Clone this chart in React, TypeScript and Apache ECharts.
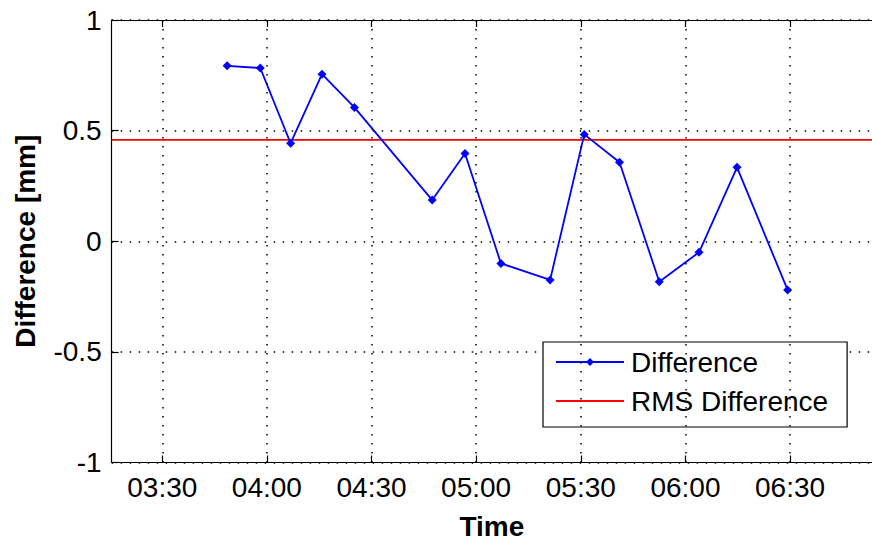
import React, { useEffect, useRef } from "react";
import * as echarts from "echarts";

// Times are minutes after midnight
const diffTimes = [228.6, 238.1, 246.8, 255.8, 265.1, 287.4, 296.8, 307.1, 321.2, 331.0, 341.1, 352.5, 363.9, 374.8, 389.3];
const diffValues = [0.793, 0.783, 0.443, 0.755, 0.605, 0.186, 0.397, -0.1, -0.175, 0.483, 0.357, -0.183, -0.05, 0.334, -0.22];
const rmsTimes = [195.5, 413.5];
const rmsValues = [0.458, 0.458];
const timeTicks = [210, 240, 270, 300, 330, 360, 390];
const yTicks = [-1, -0.5, 0, 0.5, 1];

const FONT = "'Liberation Sans', Arial, Helvetica, sans-serif";
const X_MIN = 195.5;
const X_MAX = 413.5;

function fmtTime(v: number): string {
  const h = Math.floor(v / 60);
  const m = Math.round(v - h * 60);
  return String(h).padStart(2, "0") + ":" + String(m).padStart(2, "0");
}

export default function App() {
  const ref = useRef<HTMLDivElement>(null);
  useEffect(() => {
    if (!ref.current) return;
    const chart = echarts.init(ref.current, null, { renderer: "svg" });
    const dotted = { color: "#000", width: 1.5, type: [1.5, 7.5] as number[] };
    const axisLine = { show: true, onZero: false, lineStyle: { color: "#000", width: 1.2 } };
    const tick = { show: true, inside: true, length: 7, lineStyle: { color: "#000", width: 1.2 } };
    chart.setOption({
      animation: false,
      backgroundColor: "#fff",
      grid: { left: 111.7, right: 0, top: 20, bottom: 83.5, containLabel: false },
      xAxis: [
        {
          type: "value",
          min: X_MIN,
          max: X_MAX,
          position: "bottom",
          name: "Time",
          nameLocation: "middle",
          nameGap: 50,
          nameTextStyle: { fontFamily: FONT, fontSize: 28, fontWeight: "bold", color: "#000" },
          axisLine,
          axisTick: { ...tick, customValues: timeTicks },
          axisLabel: {
            show: true,
            customValues: timeTicks,
            margin: 11,
            fontFamily: FONT,
            fontSize: 28,
            color: "#000",
            formatter: (v: number) => fmtTime(v),
          },
          splitLine: { show: false },
        },
        {
          type: "value",
          min: X_MIN,
          max: X_MAX,
          position: "top",
          axisLine,
          axisTick: { ...tick, customValues: timeTicks },
          axisLabel: { show: false },
          splitLine: { show: false },
        },
      ],
      yAxis: [
        {
          type: "value",
          min: yTicks[0],
          max: yTicks[yTicks.length - 1],
          interval: 0.5,
          position: "left",
          name: "Difference [mm]",
          nameLocation: "middle",
          nameGap: 72,
          nameTextStyle: { fontFamily: FONT, fontSize: 28, fontWeight: "bold", color: "#000" },
          axisLine,
          axisTick: tick,
          axisLabel: { margin: 10, fontFamily: FONT, fontSize: 28, color: "#000" },
          splitLine: { show: true, lineStyle: dotted },
        },
      ],
      legend: {
        orient: "vertical",
        left: 543,
        top: 342,
        padding: [6, 19, 12, 12],
        itemGap: 11,
        itemWidth: 68,
        itemHeight: 10,
        borderColor: "#000",
        borderWidth: 1.2,
        borderRadius: 0,
        backgroundColor: "#fff",
        textStyle: { fontFamily: FONT, fontSize: 28, color: "#000", padding: [0, 0, 0, 2] },
        data: [
          { name: "Difference" },
          { name: "RMS Difference", itemStyle: { opacity: 0 } },
        ],
      },
      series: [
        {
          name: "Grid",
          type: "line",
          data: [],
          silent: true,
          markLine: {
            silent: true,
            symbol: ["none", "none"],
            label: { show: false },
            lineStyle: dotted,
            emphasis: { disabled: true },
            data: timeTicks.map((t) => ({ xAxis: t })),
          },
          z: 1,
        },
        {
          name: "RMS Difference",
          type: "line",
          data: rmsTimes.map((t, i) => [t, rmsValues[i]]),
          showSymbol: false,
          symbol: "none",
          lineStyle: { color: "#ff0000", width: 1.8 },
          itemStyle: { color: "#ff0000" },
          z: 3,
        },
        {
          name: "Difference",
          type: "line",
          data: diffTimes.map((t, i) => [t, diffValues[i]]),
          symbol: "diamond",
          symbolSize: 9,
          lineStyle: { color: "#0000ff", width: 1.8 },
          itemStyle: { color: "#0000ff" },
          z: 4,
        },
      ],
    });
    return () => chart.dispose();
  }, []);
  return <div ref={ref} style={{ width: 872, height: 546, position: "absolute", left: 0, top: 0 }} />;
}
